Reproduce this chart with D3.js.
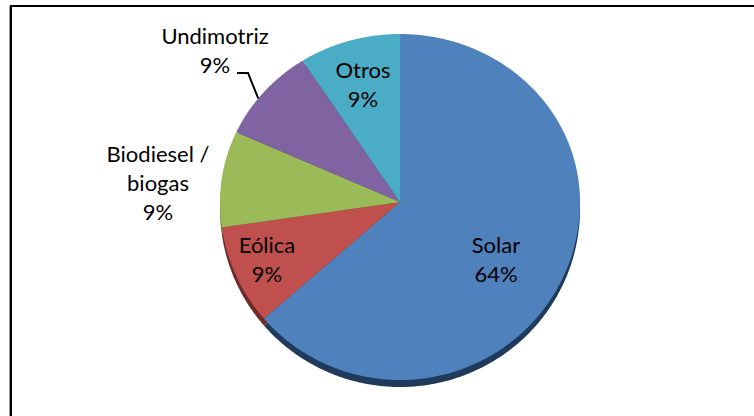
<!DOCTYPE html>
<html><head><meta charset="utf-8">
<script src="https://cdn.jsdelivr.net/npm/d3@7/dist/d3.min.js"></script>
<style>html,body{margin:0;padding:0;background:#fff;overflow:hidden}</style>
</head><body>
<script>
const categories = ["Solar", "Eólica", "Biodiesel / biogas", "Undimotriz", "Otros"];
const values = [7, 1, 1, 1, 1];
const colors = ["#4F81BD", "#C0504D", "#9BBB59", "#8064A2", "#4BACC6"];
const sideColors = ["#1F3A5A", "#6E2B29", "#5A7030", "#4A3A60", "#2B6878"];

const W = 754, H = 416;
const svg = d3.select("body").append("svg").attr("width", W).attr("height", H);

// frame
svg.append("path").attr("d", "M11,420 L11,6 L760,6").attr("fill", "none").attr("stroke", "#000").attr("stroke-width", 2);
svg.append("line").attr("x1", 9.5).attr("x2", 9.5).attr("y1", 6).attr("y2", 420).attr("stroke", "#999").attr("stroke-width", 1);

const cx = 400, cy = 202, rx = 180, rTop = 168, rBot = 178, depth = 7;
function proj(a, dy) {
  const ux = Math.sin(a), uy = -Math.cos(a);
  return [cx + ux * rx, cy + uy * (uy < 0 ? rTop : rBot) + (dy || 0)];
}
const pie = d3.pie().sort(null).value(d => d)(values);
const line = d3.line();
function slicePath(d, dy) {
  const n = Math.max(8, Math.ceil((d.endAngle - d.startAngle) / 0.01));
  const pts = [[cx, cy + (dy || 0)]];
  for (let i = 0; i <= n; i++) {
    const a = d.startAngle + (d.endAngle - d.startAngle) * i / n;
    pts.push(proj(a, dy));
  }
  return line(pts) + "Z";
}
// side (3D thickness)
svg.append("g").selectAll("path").data(pie).join("path")
  .attr("d", d => slicePath(d, depth)).attr("fill", (d, i) => sideColors[i]);
// top faces
svg.append("g").selectAll("path").data(pie).join("path")
  .attr("d", d => slicePath(d, 0)).attr("fill", (d, i) => colors[i]);

const total = d3.sum(values);
const pct = v => Math.round(v / total * 100) + "%";
const labelLines = [
  ["Solar", pct(values[0])],
  ["Eólica", pct(values[1])],
  ["Biodiesel /", "biogas", pct(values[2])],
  ["Undimotriz", pct(values[3])],
  ["Otros", pct(values[4])]
];
const labelPos = [[496, 253], [267, 253], [158, 162], [215, 44], [363, 78]];
const lh = 29;
const lg = svg.append("g").attr("font-family", "Lato, 'Open Sans', sans-serif").attr("font-size", 22).attr("fill", "#000").attr("text-anchor", "middle");
labelLines.forEach((ls, i) => {
  const t = lg.append("text");
  ls.forEach((s, j) => t.append("tspan").attr("x", labelPos[i][0]).attr("y", labelPos[i][1] + j * lh).text(s));
});
// leader line for Undimotriz
const mid = (pie[3].startAngle + pie[3].endAngle) / 2;
const end = proj(mid - 0.05, 0);
svg.append("path").attr("d", d3.line()([[237, 73], [248, 73], end]))
  .attr("fill", "none").attr("stroke", "#000").attr("stroke-width", 2);
</script>
</body></html>
